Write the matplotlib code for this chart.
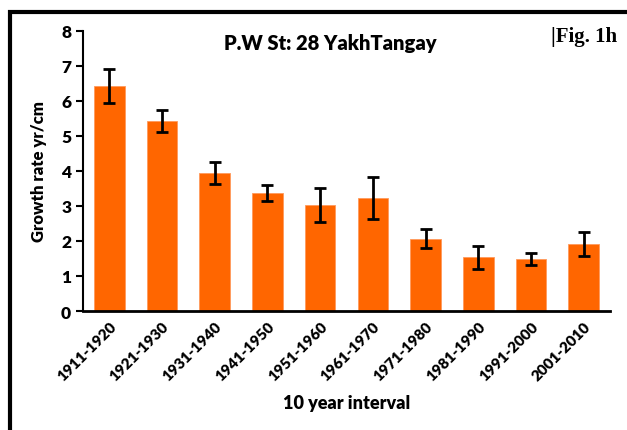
import matplotlib.pyplot as plt
import numpy as np
from matplotlib.patches import Rectangle

intervals = ['1911-1920', '1921-1930', '1931-1940', '1941-1950', '1951-1960',
             '1961-1970', '1971-1980', '1981-1990', '1991-2000', '2001-2010']
growth = [6.43, 5.42, 3.95, 3.37, 3.02, 3.22, 2.07, 1.54, 1.49, 1.92]
err = [0.48, 0.31, 0.31, 0.24, 0.48, 0.60, 0.28, 0.33, 0.18, 0.35]

plt.rcParams['font.family'] = 'Lato'
plt.rcParams['font.weight'] = 'heavy'

fig = plt.figure(figsize=(6.27, 4.31), dpi=100)
ax = fig.add_axes([0.1324, 0.2761, 0.8405, 0.6497])

xs = np.arange(len(growth))
ax.bar(xs, growth, width=0.58, color='#ff6600', edgecolor='#ff9a5c', linewidth=0.6,
       yerr=err, capsize=4, error_kw=dict(elinewidth=2, capthick=2, ecolor='black'))

ax.set_xlim(-0.5, len(growth) - 0.5)
ax.set_ylim(0, 8)
ax.set_yticks(range(9))
ax.tick_params(axis='y', labelsize=12.5, length=5, width=1.5, direction='out')
ax.tick_params(axis='x', length=0, pad=6)
ax.set_xticks(xs)
ax.set_xticklabels(intervals, rotation=45, ha='right', rotation_mode='anchor', fontsize=11)

for s in ['top', 'right']:
    ax.spines[s].set_visible(False)
ax.spines['left'].set_linewidth(1.5)
ax.spines['bottom'].set_linewidth(2)

ax.set_ylabel('Growth rate yr/cm', fontsize=12, fontweight='heavy', labelpad=10)
ax.set_xlabel('10 year interval', fontsize=13, fontweight='heavy', labelpad=8)

fig.text(0.527, 0.9, 'P.W St: 28 YakhTangay', ha='center', va='center', fontsize=14.5, fontweight='heavy')
fig.text(0.985, 0.915, '|Fig. 1h', ha='right', va='center', fontsize=15, fontweight='bold',
         family='Liberation Serif')

# black frame around the figure (runs off the right and bottom edges)
fig.patches.append(Rectangle((10 / 627, -0.1), 1.2, 0.1 + (431 - 13) / 431,
                             transform=fig.transFigure, fill=False, edgecolor='black', linewidth=3))

plt.savefig('out.png', dpi=100)
